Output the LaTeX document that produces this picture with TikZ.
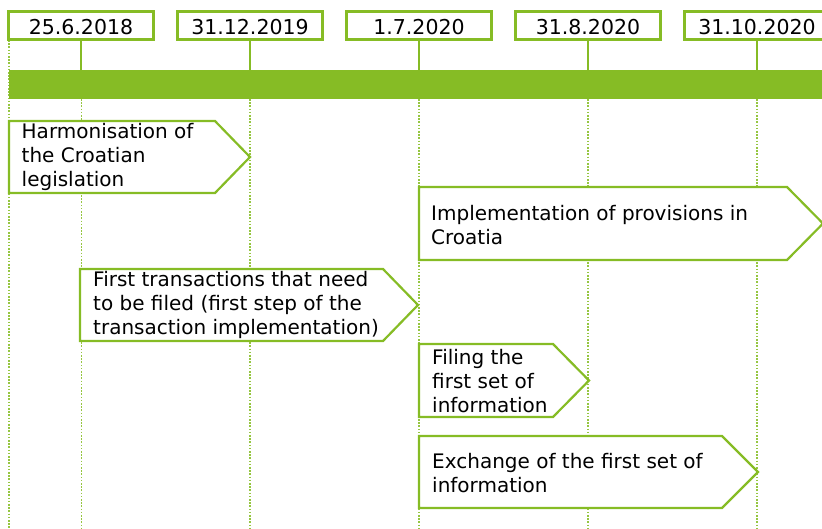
\documentclass[tikz,border=0pt]{standalone}
\usepackage{fontspec}
\setmainfont{DejaVu Sans}
\definecolor{leaf}{RGB}{134,188,37}
\definecolor{leaflight}{RGB}{150,198,65}
\begin{document}
\begin{tikzpicture}[x=1pt,y=-1pt,
  datebox/.style={draw=leaf, line width=3pt, fill=white, minimum width=145pt,
    minimum height=28.5pt, inner sep=0pt, text height=17.5pt, text depth=0pt,
    font=\fontsize{20.5}{24}\selectfont},
  tick/.style={draw=leaf, line width=2.2pt},
  guide/.style={draw=leaflight, line width=1.1pt, dash pattern=on 1.6pt off 1.6pt},
  phase/.style={draw=leaf, line width=2.2pt, fill=white, line join=miter},
  phasetext/.style={anchor=west, align=left, inner sep=0pt,
    font=\fontsize{20}{24}\selectfont}
]
\useasboundingbox (0,0) rectangle (822,528);
\clip (0,0) rectangle (822,528);

% dotted guide lines marking each date
\coordinate (g0) at (9,40);
\coordinate (g0e) at (9,528);
\draw[guide] (g0) -- (g0e);
\foreach \gx [count=\i] in {81.5,250,419,588,757}{
  \coordinate (gt\i) at (\gx,99);
  \coordinate (gb\i) at (\gx,528);
  \draw[guide] (gt\i) -- (gb\i);
}

% timeline bar
\node (bar) [fill=leaf, inner sep=0pt, minimum width=830pt, minimum height=29pt,
  anchor=north west] at (9,70) {};

% date labels with ticks down to the bar
\node[datebox] (d1) at (81,25.25) {25.6.2018};
\node[datebox] (d2) at (250,25.25) {31.12.2019};
\node[datebox] (d3) at (419,25.25) {1.7.2020};
\node[datebox] (d4) at (588,25.25) {31.8.2020};
\node[datebox] (d5) at (757,25.25) {31.10.2020};
\foreach \d in {d1,d2,d3,d4,d5}
  \draw[tick] (\d.south) -- (\d.south |- bar.north);

% phases
\draw[phase] (9,121) -- (215,121) -- (250,157) -- (215,193) -- (9,193) -- cycle;
\node[phasetext] (p1) at (21.5,157) {Harmonisation of\\the Croatian\\legislation};

\draw[phase] (419,187) -- (787,187) -- (823,223.5) -- (787,260) -- (419,260) -- cycle;
\node[phasetext] (p2) at (431,225) {Implementation of provisions in\\Croatia};

\draw[phase] (80,269) -- (383,269) -- (418,305) -- (383,341) -- (80,341) -- cycle;
\node[phasetext] (p3) at (93,305) {First transactions that need\\to be filed (first step of the\\transaction implementation)};

\draw[phase] (419,344) -- (553,344) -- (589,380.5) -- (553,417) -- (419,417) -- cycle;
\node[phasetext] (p4) at (432,381) {Filing the\\first set of\\information};

\draw[phase] (419,436) -- (722,436) -- (758,472) -- (722,508) -- (419,508) -- cycle;
\node[phasetext] (p5) at (432,473) {Exchange of the first set of\\information};
\end{tikzpicture}
\end{document}
